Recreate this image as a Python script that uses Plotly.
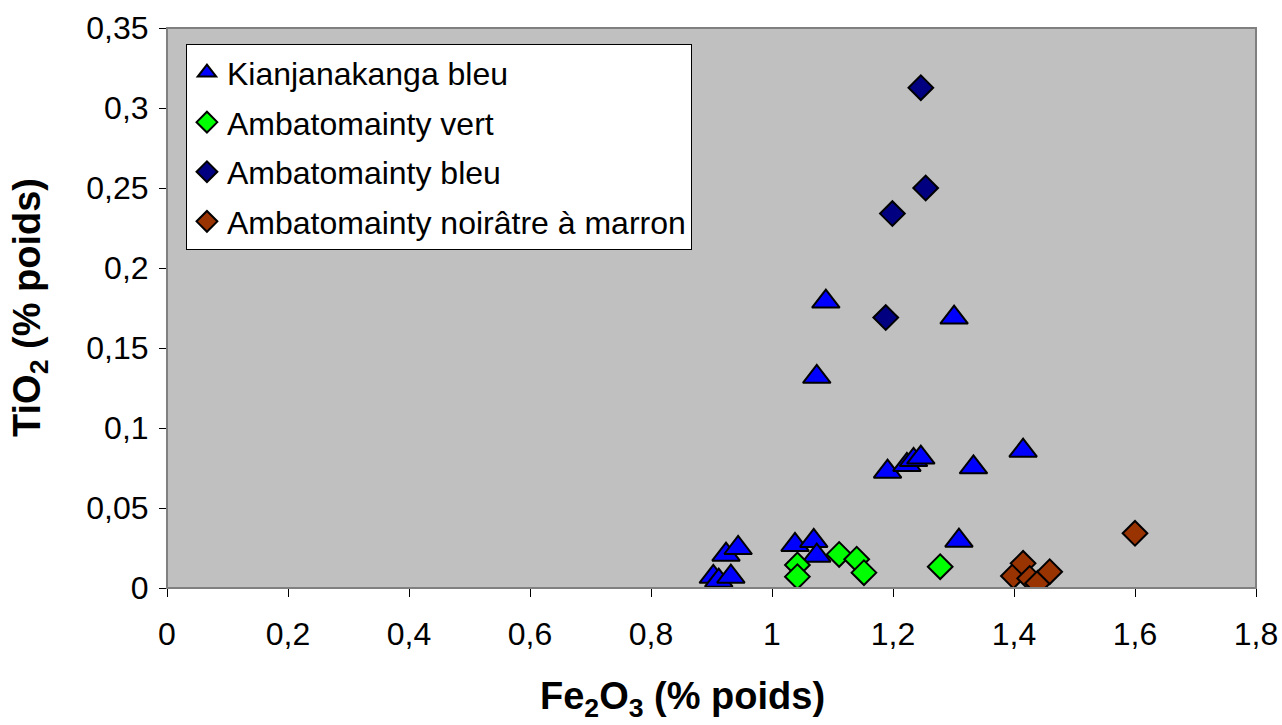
import plotly.graph_objects as go

# Kianjanakanga bleu
kb_x = [0.903, 0.912, 0.924, 0.932, 0.944, 1.038, 1.069, 1.074, 1.074, 1.089,
        1.191, 1.223, 1.234, 1.246, 1.301, 1.309, 1.333, 1.415]
kb_y = [0.007, 0.0046, 0.0208, 0.0071, 0.025, 0.0269, 0.0294, 0.0202, 0.132, 0.179,
        0.0727, 0.0769, 0.080, 0.0815, 0.169, 0.0296, 0.0754, 0.0858]
# Ambatomainty vert
av_x = [1.042, 1.042, 1.111, 1.140, 1.152, 1.278]
av_y = [0.0144, 0.0071, 0.021, 0.018, 0.0096, 0.0133]
# Ambatomainty bleu
ab_x = [1.246, 1.254, 1.199, 1.188]
ab_y = [0.3127, 0.250, 0.234, 0.169]
# Ambatomainty noirâtre à marron
am_x = [1.399, 1.415, 1.426, 1.439, 1.459, 1.600]
am_y = [0.0075, 0.0154, 0.006, 0.003, 0.0102, 0.0342]

names = ["Kianjanakanga bleu", "Ambatomainty vert", "Ambatomainty bleu",
         "Ambatomainty noirâtre à marron"]
colors = ["#0000FF", "#00FF00", "#000080", "#993300"]
symbols = ["triangle-up", "diamond", "diamond", "diamond"]
sizes = [24, 19, 19, 19]
data = [(kb_x, kb_y), (av_x, av_y), (ab_x, ab_y), (am_x, am_y)]

x_title = "<b>Fe<sub>2</sub>O<sub>3</sub> (% poids)</b>"
y_title = "<b>TiO<sub>2</sub> (% poids)</b>"

FONT = "Arial, Liberation Sans, sans-serif"

fig = go.Figure()
for i, ((xs, ys), n, c, s, sz) in enumerate(zip(data, names, colors, symbols, sizes)):
    fig.add_trace(go.Scatter(
        x=xs, y=ys, mode="markers", name=n, legendgroup=f"g{i}",
        marker=dict(symbol=s, size=sz, color=c, line=dict(color="black", width=2)),
    ))

fig.update_layout(
    width=1282, height=725,
    margin=dict(l=167, r=26, t=28, b=137, autoexpand=False),
    paper_bgcolor="white",
    plot_bgcolor="#C0C0C0",
    separators=", ",
    font=dict(family=FONT, size=32, color="black"),
    showlegend=True,
    legend=dict(
        x=0.0174, y=0.971, xanchor="left", yanchor="top",
        bgcolor="white", bordercolor="black", borderwidth=1,
        font=dict(family=FONT, size=32, color="black"),
        traceorder="grouped", tracegroupgap=5,
    ),
    xaxis=dict(
        range=[0, 1.8], dtick=0.2, tick0=0, automargin=False,
        showgrid=False, zeroline=False,
        showline=True, linecolor="black", linewidth=1,
        ticks="outside", ticklen=8, tickcolor="black",
        ticklabelstandoff=10,
    ),
    yaxis=dict(
        range=[0, 0.35], dtick=0.05, tick0=0, automargin=False,
        showgrid=False, zeroline=False,
        showline=True, linecolor="black", linewidth=1,
        ticks="outside", ticklen=7, tickcolor="black",
        ticklabelstandoff=4,
    ),
    annotations=[
        dict(text=x_title, xref="paper", yref="paper", x=0.473, y=-0.198,
             xanchor="center", yanchor="middle", showarrow=False,
             font=dict(family=FONT, size=38)),
        dict(text=y_title, xref="paper", yref="paper", x=-0.1258, y=0.5,
             xanchor="center", yanchor="middle", showarrow=False, textangle=-90,
             font=dict(family=FONT, size=38)),
    ],
    shapes=[dict(type="rect", xref="paper", yref="paper", x0=0, x1=1, y0=0, y1=1,
                 line=dict(color="#808080", width=2), layer="above")],
)

fig.write_html(
    "out.html",
    config={"displayModeBar": False},
    post_script="document.body.style.margin='0';document.body.style.overflow='hidden';",
)
